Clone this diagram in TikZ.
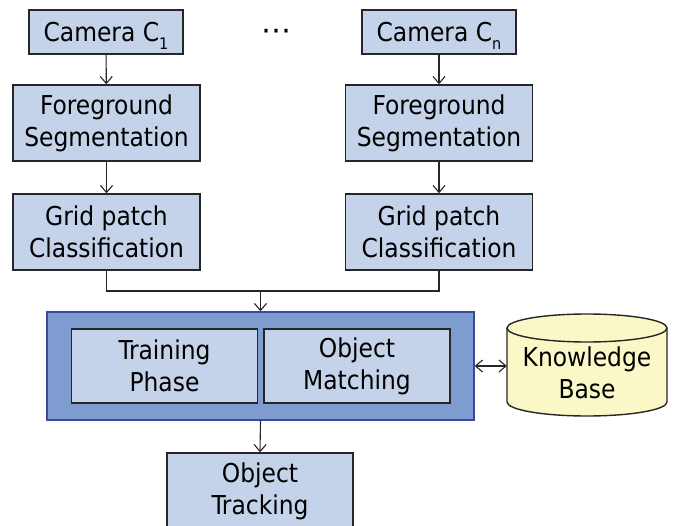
\documentclass[tikz,border=0pt]{standalone}
\usepackage{fontspec}
\setmainfont{DejaVu Sans Condensed}
\newfontfamily\symfont{DejaVu Sans}
\usetikzlibrary{arrows.meta,calc}
\definecolor{boxblue}{HTML}{C5D3EA}
\definecolor{outerblue}{HTML}{7F9CD0}
\definecolor{outerline}{HTML}{3B4A9A}
\definecolor{kbfill}{HTML}{FBF8C8}
\newcommand{\subtxt}[1]{\raisebox{-0.3em}[0pt][0pt]{\fontsize{16}{16}\selectfont #1}}
\begin{document}
\begin{tikzpicture}[x=1pt,y=-1pt,
  every node/.style={font=\fontsize{26}{32}\selectfont, align=center, inner sep=0pt},
  blk/.style={draw=black!85, line width=1.4pt, fill=boxblue},
  arr/.style={-{Straight Barb[length=7pt,width=12pt]}, line width=1.1pt, black!85},
  darr/.style={{Straight Barb[length=7pt,width=12pt]}-{Straight Barb[length=7pt,width=12pt]}, line width=1.1pt, black!85},
  ln/.style={line width=1.1pt, black!85}]
\useasboundingbox (0,0) rectangle (676,526);
\node[blk, minimum width=154pt, minimum height=44pt] (c1) at (106,32) {Camera C\subtxt{1}};
\node[blk, minimum width=187pt, minimum height=76pt] (f1) at (106.5,123) {Foreground\\Segmentation};
\node[blk, minimum width=187pt, minimum height=76pt] (g1) at (106.5,232) {Grid patch\\Classification};
\node[blk, minimum width=154pt, minimum height=44pt] (cn) at (439,32) {Camera C\subtxt{n}};
\node[blk, minimum width=187pt, minimum height=76pt] (fn) at (439,123) {Foreground\\Segmentation};
\node[blk, minimum width=187pt, minimum height=76pt] (gn) at (439,232) {Grid patch\\Classification};
\node (dots) at (276,35) {\symfont\fontsize{30}{30}\selectfont ⋯};
\node[draw=outerline, line width=1.4pt, fill=outerblue, minimum width=427pt, minimum height=108pt] (outer) at (260.5,366) {};
\node[blk, minimum width=186pt, minimum height=74pt] (train) at (164.5,366) {Training\\Phase};
\node[blk, minimum width=186pt, minimum height=74pt] (match) at (357,366) {Object\\Matching};
\node[minimum width=160pt, minimum height=104pt] (kb) at (587,366) {};
\fill[kbfill] (507,328) -- (507,402) arc[start angle=180,end angle=0,x radius=80,y radius=14] -- (667,328) arc[start angle=0,end angle=-180,x radius=80,y radius=14] -- cycle;
\draw[line width=1.4pt, black!85] (507,328) -- (507,402) arc[start angle=180,end angle=0,x radius=80,y radius=14] -- (667,328);
\draw[line width=1.4pt, black!85] (587,328) ellipse[x radius=80,y radius=14];
\node (kbtext) at (587,373) {Knowledge\\Base};
\node[blk, minimum width=186pt, minimum height=76pt] (track) at (260,491) {Object\\Tracking};
\coordinate (m) at (260.5,291);
\draw[arr] (c1) -- (f1);
\draw[arr] (f1) -- (g1);
\draw[arr] (cn) -- (fn);
\draw[arr] (fn) -- (gn);
\draw[ln] (g1.south) |- (m) -| (gn.south);
\draw[arr] (m) -- (outer.north);
\draw[arr] (outer.south) -- (track.north);
\draw[darr] (outer.east) -- (kb.west);
\end{tikzpicture}
\end{document}
